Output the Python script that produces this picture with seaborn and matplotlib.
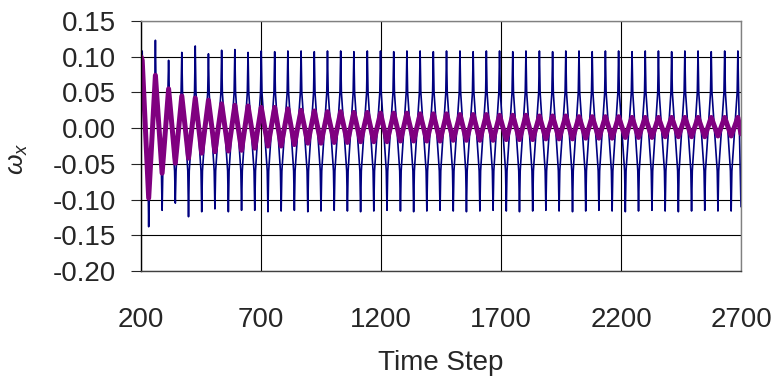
import numpy as np
import pandas as pd
import matplotlib
matplotlib.use("Agg")
import matplotlib.pyplot as plt
import seaborn as sns

# time steps of the oscillation peaks / troughs
peak_steps = [205, 260, 315, 370, 426, 481, 536, 591, 646, 701, 757, 812, 867, 922, 977,
              1032, 1087, 1143, 1198, 1253, 1308, 1363, 1418, 1473, 1529, 1584, 1639, 1694,
              1749, 1804, 1860, 1915, 1970, 2025, 2080, 2135, 2190, 2246, 2301, 2356, 2411,
              2466, 2521, 2576, 2632, 2687]
trough_steps = [232, 288, 343, 398, 453, 508, 564, 619, 674, 729, 784, 839, 895, 950, 1005,
                1060, 1115, 1170, 1225, 1281, 1336, 1391, 1446, 1501, 1556, 1612, 1667, 1722,
                1777, 1832, 1887, 1942, 1998, 2053, 2108, 2163, 2218, 2273, 2329, 2384, 2439,
                2494, 2549, 2604, 2659]
start_step, end_step = 200, 2700

# navy series
navy_start, navy_end = 0.090, -0.110
navy_peaks = [0.108, 0.123, 0.095, 0.106, 0.115, 0.104, 0.109, 0.110, 0.106, 0.108,
              0.107, 0.108, 0.108, 0.107, 0.108, 0.108, 0.107, 0.108, 0.108, 0.107,
              0.108, 0.108, 0.107, 0.108, 0.108, 0.107, 0.108, 0.108, 0.107, 0.108,
              0.108, 0.107, 0.108, 0.108, 0.107, 0.108, 0.108, 0.107, 0.108, 0.108,
              0.107, 0.108, 0.108, 0.107, 0.108, 0.108]
navy_troughs = [-0.138, -0.115, -0.105, -0.124, -0.117, -0.113, -0.117, -0.115, -0.115, -0.117,
                -0.116, -0.115, -0.117, -0.116, -0.115, -0.116, -0.117, -0.116, -0.115, -0.116,
                -0.117, -0.116, -0.115, -0.116, -0.117, -0.116, -0.115, -0.116, -0.117, -0.116,
                -0.115, -0.116, -0.117, -0.116, -0.115, -0.116, -0.117, -0.116, -0.115, -0.116,
                -0.117, -0.116, -0.115, -0.116, -0.116]
# the navy wave bends at these levels, a few steps away from each extreme
navy_knee_hi, navy_knee_lo = 0.050, -0.060

# purple series (decaying)
purple_start, purple_end = 0.100, -0.008
purple_peaks = [0.095, 0.074, 0.055, 0.045, 0.042, 0.039, 0.034, 0.032, 0.031, 0.029,
                0.029, 0.027, 0.025, 0.024, 0.023, 0.023, 0.022, 0.022, 0.021, 0.021,
                0.021, 0.020, 0.020, 0.020, 0.019, 0.019, 0.019, 0.018, 0.018, 0.018,
                0.017, 0.017, 0.017, 0.016, 0.016, 0.016, 0.016, 0.015, 0.015, 0.015,
                0.015, 0.015, 0.015, 0.015, 0.015, 0.015]
purple_troughs = [-0.098, -0.063, -0.049, -0.042, -0.035, -0.033, -0.032, -0.031, -0.028, -0.025,
                  -0.025, -0.023, -0.021, -0.021, -0.020, -0.020, -0.019, -0.019, -0.019, -0.018,
                  -0.018, -0.018, -0.018, -0.017, -0.017, -0.017, -0.017, -0.016, -0.016, -0.016,
                  -0.015, -0.015, -0.015, -0.014, -0.014, -0.014, -0.013, -0.013, -0.013, -0.012,
                  -0.012, -0.012, -0.012, -0.011, -0.011]

x_ticks = [200, 700, 1200, 1700, 2200, 2700]
y_ticks = [-0.20, -0.15, -0.10, -0.05, 0.00, 0.05, 0.10, 0.15]


def interleave(start, peaks, troughs, end):
    vals = [start]
    for i, p in enumerate(peaks):
        vals.append(p)
        if i < len(troughs):
            vals.append(troughs[i])
    vals.append(end)
    return vals


steps = interleave(start_step, peak_steps, trough_steps, end_step)
navy_vals = interleave(navy_start, navy_peaks, navy_troughs, navy_end)
purple_vals = interleave(purple_start, purple_peaks, purple_troughs, purple_end)

# navy: add the knee points between each pair of extremes
gap = 3
navy_x, navy_y = [steps[0]], [navy_vals[0]]
for i in range(1, len(steps) - 1):
    t, v = steps[i], navy_vals[i]
    hi = v > 0
    knee = navy_knee_hi if hi else navy_knee_lo
    navy_x += [t - gap, t, t + gap]
    navy_y += [knee, v, knee]
navy_x.append(steps[-1])
navy_y.append(navy_vals[-1])
navy_x[1], navy_y[1] = navy_x[0] + 1, navy_vals[0]

df = pd.concat([
    pd.DataFrame({"step": navy_x, "value": navy_y, "series": "navy"}),
    pd.DataFrame({"step": steps, "value": purple_vals, "series": "purple"}),
])

sns.set_style("white")
plt.rcParams["font.family"] = ["Liberation Sans", "DejaVu Sans"]
plt.rcParams["axes.unicode_minus"] = False
plt.rcParams["mathtext.fontset"] = "custom"
plt.rcParams["mathtext.rm"] = "Liberation Sans"
plt.rcParams["mathtext.it"] = "Liberation Sans:italic"

fig = plt.figure(figsize=(7.77, 3.81), dpi=100)
ax = fig.add_axes([141 / 777, 1 - 271 / 381, 600 / 777, 250 / 381])

sns.lineplot(data=df, x="step", y="value", hue="series", size="series",
             palette={"navy": "#000080", "purple": "#800080"},
             sizes={"navy": 1.2, "purple": 3.6}, estimator=None, sort=False,
             legend=False, ax=ax)
for ln in ax.get_lines():
    ln.set_solid_joinstyle("round")

ax.set_xlim(200, 2700)
ax.set_ylim(-0.20, 0.15)
ax.set_xticks(x_ticks)
ax.set_yticks(y_ticks)
ax.set_yticklabels([f"{v:.2f}" for v in y_ticks])
ax.grid(True, color="black", linewidth=0.8)
ax.set_axisbelow(True)

for side in ["top", "right"]:
    ax.spines[side].set_color("#808080")
ax.spines["left"].set_color("black")
ax.spines["bottom"].set_color("#404040")
for s in ax.spines.values():
    s.set_linewidth(1.0)

ax.tick_params(axis="y", direction="out", length=7, width=0.8, pad=11, labelsize=20, left=True)
ax.tick_params(axis="x", length=0, pad=26, labelsize=20)

ax.set_xlabel("Time Step", fontsize=20, labelpad=12)
ax.set_ylabel(r"$\omega_x$", fontsize=19)
ax.yaxis.set_label_coords(-0.185, 0.45)

fig.savefig("out.png", dpi=100)
